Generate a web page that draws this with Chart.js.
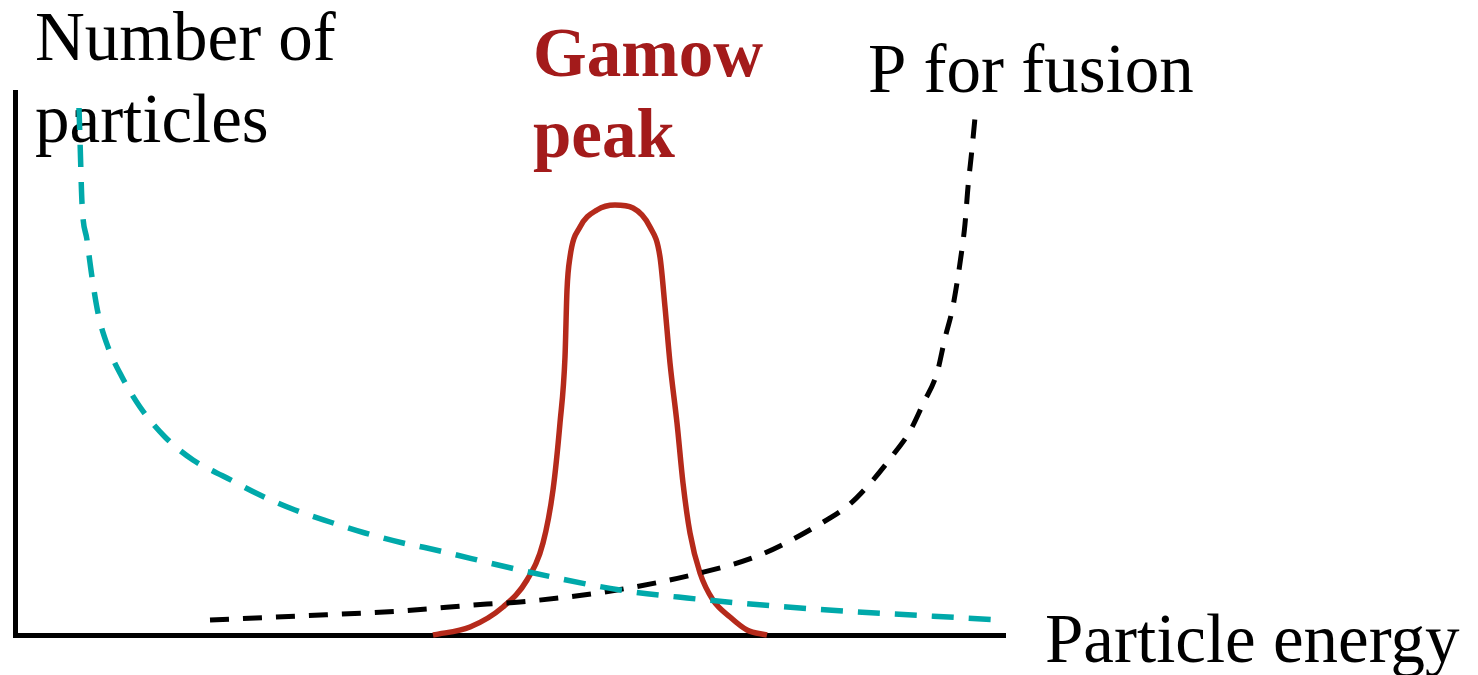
<!DOCTYPE html>
<html>
<head>
<meta charset="utf-8">
<script src="https://cdn.jsdelivr.net/npm/chart.js@4"></script>
<style>
html,body{margin:0;padding:0;background:#fff;}
#wrap{position:relative;width:1478px;height:675px;}
</style>
</head>
<body>
<div id="wrap"><canvas id="c"></canvas></div>
<script>
// Particle energy (arbitrary units) and curve heights (arbitrary units)
const particlesX = [6.4, 6.5, 6.7, 7.2, 7.7, 8.3, 9.3, 10.7, 12.5, 15, 17.8, 21.2, 24.5, 28, 31.5, 35, 38.8, 41.2, 50.5, 60.5, 67.2, 78.5, 98.5];
const particlesY = [105.4, 99, 86.4, 79, 71.6, 64.4, 57.6, 51.6, 45.6, 39.6, 35, 31.4, 28, 25, 22.6, 20.4, 18.4, 17.4, 13, 9, 7.4, 5.4, 3];

const fusionX = [19.5, 28.5, 38.5, 47.2, 50.5, 60.2, 68.5, 74.5, 80.5, 83.5, 85.8, 87.8, 89.5, 90.8, 92.2, 93, 93.7, 94.2, 94.7, 95, 95.3, 95.7, 96.1];
const fusionY = [3, 3.8, 4.8, 6.2, 6.6, 9, 12.4, 16, 22.2, 26.2, 31, 36, 40.8, 46.2, 52.4, 59.4, 64.8, 70.4, 77.2, 82.2, 89.6, 97.2, 105.6];

const gamowX = [41.8, 45.5, 48.8, 51.2, 52.8, 53.8, 54.5, 55, 55.2, 55.5, 56.5, 58.2, 60, 61.8, 63.5, 64.5, 65, 65.5, 66.2, 66.8, 67.5, 68.5, 69.8, 71.5, 73.2, 75.2];
const gamowY = [0, 1.6, 5.6, 11, 18.4, 29, 42.4, 55.6, 69, 75.6, 81.6, 85, 86, 85.4, 81.6, 75.6, 65.6, 54.4, 42.4, 30.4, 20.4, 12.4, 7, 3.6, 1, 0];

const labels = {
  yTitle: ["Number of", "particles"],
  peak: ["Gamow", "peak"],
  fusion: "P for fusion",
  xTitle: "Particle energy"
};

const pts = (xs, ys) => xs.map((x, i) => ({x: x, y: ys[i]}));

const textPlugin = {
  id: 'texts',
  beforeDatasetsDraw(chart) {
    const ctx = chart.ctx;
    ctx.save();
    ctx.textBaseline = 'alphabetic';
    ctx.textAlign = 'left';
    ctx.fillStyle = '#000';
    ctx.font = '69px "Liberation Serif", "Times New Roman", serif';
    ctx.fillText(labels.yTitle[0], 35, 60);
    ctx.fillText(labels.yTitle[1], 35, 142);
    ctx.fillText(labels.fusion, 868, 92);
    ctx.fillText(labels.xTitle, 1045, 662);
    ctx.fillStyle = '#A31B1B';
    ctx.font = 'bold 69px "Liberation Serif", "Times New Roman", serif';
    ctx.fillText(labels.peak[0], 533, 76);
    ctx.fillText(labels.peak[1], 533, 157);
    ctx.restore();
  }
};

new Chart(document.getElementById('c'), {
  type: 'line',
  data: {
    datasets: [
      {
        label: 'Number of particles',
        data: pts(particlesX, particlesY),
        borderColor: '#00A9AA',
        borderWidth: 5.5,
        borderDash: [22, 15],
        borderCapStyle: 'butt',
        pointRadius: 0,
        fill: false,
        cubicInterpolationMode: 'monotone'
      },
      {
        label: 'P for fusion',
        data: pts(fusionX, fusionY),
        borderColor: '#000000',
        borderWidth: 5,
        borderDash: [19, 14],
        borderCapStyle: 'butt',
        pointRadius: 0,
        fill: false,
        cubicInterpolationMode: 'monotone'
      },
      {
        label: 'Gamow peak',
        data: pts(gamowX, gamowY),
        borderColor: '#B52A1B',
        borderWidth: 5.5,
        pointRadius: 0,
        fill: false,
        cubicInterpolationMode: 'monotone'
      }
    ]
  },
  options: {
    responsive: true,
    maintainAspectRatio: false,
    animation: false,
    clip: false,
    layout: {padding: {left: 15, right: 473, top: 92, bottom: 40}},
    plugins: {legend: {display: false}, tooltip: {enabled: false}, title: {display: false}},
    scales: {
      x: {
        type: 'linear', min: 0, max: 99,
        grid: {display: false, drawTicks: false},
        ticks: {display: false},
        border: {display: true, color: '#000', width: 5}
      },
      y: {
        type: 'linear', min: 0, max: 108.6,
        grid: {display: false, drawTicks: false},
        ticks: {display: false},
        border: {display: true, color: '#000', width: 5}
      }
    }
  },
  plugins: [textPlugin]
});
</script>
</body>
</html>
